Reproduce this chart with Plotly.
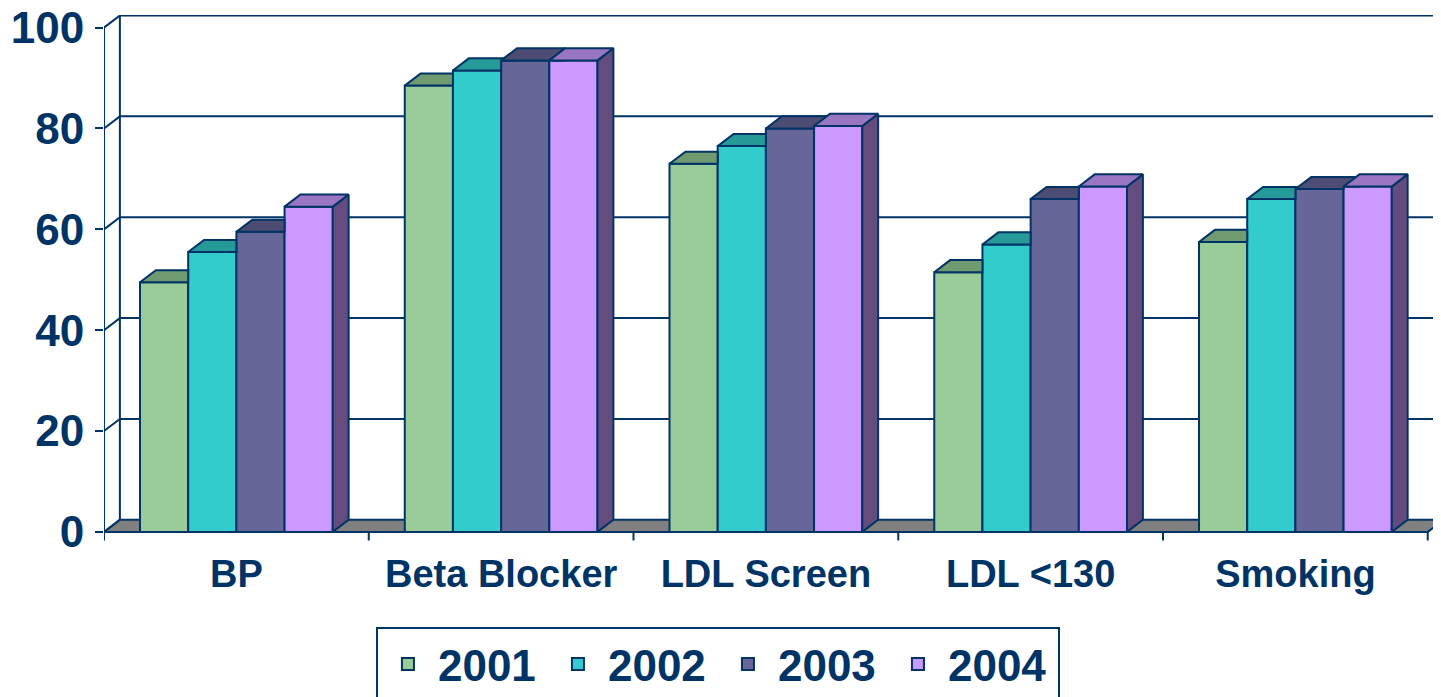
import plotly.graph_objects as go

categories = ["BP", "Beta Blocker", "LDL Screen", "LDL <130", "Smoking"]
years = ["2001", "2002", "2003", "2004"]
values_2001 = [49.5, 88.5, 73, 51.5, 57.5]
values_2002 = [55.5, 91.5, 76.5, 57, 66]
values_2003 = [59.5, 93.5, 80, 66, 68]
values_2004 = [64.5, 93.5, 80.5, 68.5, 68.5]
y_ticks = [0, 20, 40, 60, 80, 100]

series = [values_2001, values_2002, values_2003, values_2004]
front_colors = ["#99CC99", "#33CCCC", "#666699", "#CC99FF"]
top_colors = ["#709A70", "#269999", "#4D4D73", "#9A75C2"]
side_colors = ["#5A7A5A", "#1F7F7F", "#3D3D5C", "#644D7E"]
NAVY = "#003366"
FONT = "Liberation Sans, Arial, sans-serif"

# fake 3d: depth offset of the back wall in axis units
BAR_W = 0.182
DX = 0.06
DY = 2.4
X_LEFT = -0.5
X_RIGHT = len(categories) - 0.5
Y_MAX = max(y_ticks)


def clip(poly, axis, bound, keep_ge):
    # one step of Sutherland-Hodgman against a half plane
    out = []
    n = len(poly)
    for k in range(n):
        p, q = poly[k], poly[(k + 1) % n]
        pin = p[axis] >= bound if keep_ge else p[axis] <= bound
        qin = q[axis] >= bound if keep_ge else q[axis] <= bound
        if pin:
            out.append(p)
        if pin != qin:
            t = (bound - p[axis]) / (q[axis] - p[axis])
            out.append((p[0] + t * (q[0] - p[0]), p[1] + t * (q[1] - p[1])))
    return out


def top_face(x0, x1, v, h):
    # top of a bar, minus the part hidden by the next (front) bar of height h
    if h is None or h <= v:
        return [(x0, v), (x1, v), (x1 + DX, v + DY), (x0 + DX, v + DY)]
    if h >= v + DY:
        return [(x0, v), (x1, v), (x1, v + DY), (x0 + DX, v + DY)]
    return [(x0, v), (x1, v), (x1, h), (x1 + DX * (h - v) / DY, h),
            (x1 + DX, v + DY), (x0 + DX, v + DY)]


def side_face(x1, v, h):
    poly = [(x1, 0), (x1 + DX, DY), (x1 + DX, v + DY), (x1, v)]
    if h is None:
        return poly
    return clip(poly, 1, h, True)


fig = go.Figure()

for j, vals in enumerate(series):
    fig.add_trace(go.Bar(
        x=[i + (j - 1.5) * BAR_W for i in range(len(categories))],
        y=vals,
        width=BAR_W,
        name=years[j],
        marker=dict(color=front_colors[j], line=dict(color=NAVY, width=2)),
        hovertext=categories,
    ))

# tops and sides, painted back to front
for i in range(len(categories)):
    for j, vals in enumerate(series):
        v = vals[i]
        x0 = i + (j - 2) * BAR_W
        x1 = x0 + BAR_W
        h = series[j + 1][i] if j + 1 < len(series) else None
        for poly, col in [(side_face(x1, v, h), side_colors[j]),
                          (top_face(x0, x1, v, h), top_colors[j])]:
            if len(poly) < 3:
                continue
            fig.add_trace(go.Scatter(
                x=[p[0] for p in poly] + [poly[0][0]],
                y=[p[1] for p in poly] + [poly[0][1]],
                mode="lines", fill="toself", fillcolor=col,
                line=dict(color=NAVY, width=2),
                showlegend=False, hoverinfo="skip",
            ))

shapes = []
line = dict(color=NAVY, width=2)
# floor
shapes.append(dict(type="path", layer="below",
                   path=f"M{X_LEFT},0 L{X_RIGHT},0 L{X_RIGHT + DX},{DY} L{X_LEFT + DX},{DY} Z",
                   fillcolor="#808080", line=line))
# back wall
shapes.append(dict(type="line", layer="below", x0=X_LEFT + DX, x1=X_LEFT + DX,
                   y0=DY, y1=Y_MAX + DY, line=line))
for t in y_ticks:
    if t > 0:
        shapes.append(dict(type="line", layer="below", x0=X_LEFT + DX, x1=X_RIGHT + 1,
                           y0=t + DY, y1=t + DY, line=line))
    shapes.append(dict(type="line", layer="below", x0=X_LEFT, x1=X_LEFT + DX,
                       y0=t, y1=t + DY, line=line))
# front axes
shapes.append(dict(type="line", x0=X_LEFT, x1=X_LEFT, y0=0, y1=Y_MAX, line=line))
shapes.append(dict(type="line", x0=X_LEFT, x1=X_RIGHT, y0=0, y1=0, line=line))
for k in range(len(categories) + 1):
    shapes.append(dict(type="line", x0=X_LEFT + k, x1=X_LEFT + k, y0=0, y1=-1.7, line=line))

# page body has an 8px margin, so the figure is a bit smaller than the window
fig.update_layout(
    width=1433, height=689,
    margin=dict(l=96, r=0, t=7, b=155),
    plot_bgcolor="white", paper_bgcolor="white",
    barmode="overlay",
    shapes=shapes,
    showlegend=True,
    legend=dict(orientation="h", x=0.2034, xanchor="left",
                yref="container", y=0.1016, yanchor="top",
                bordercolor=NAVY, borderwidth=2, bgcolor="white",
                entrywidth=105, itemwidth=50,
                font=dict(family=FONT, size=44, color=NAVY, weight="bold"),
                traceorder="normal"),
    xaxis=dict(range=[X_LEFT, X_RIGHT + 0.05], tickvals=list(range(len(categories))),
               ticktext=categories, ticks="", showgrid=False, zeroline=False,
               showline=False, ticklabelstandoff=6, automargin=False,
               tickfont=dict(family=FONT, size=38, color=NAVY, weight="bold")),
    yaxis=dict(range=[-2, Y_MAX + 2.5], tickvals=y_ticks, ticks="outside", ticklen=8,
               tickwidth=2, tickcolor=NAVY, showgrid=False, zeroline=False,
               showline=False, ticklabelstandoff=2, ticklabeloverflow="allow",
               automargin=False,
               tickfont=dict(family=FONT, size=44, color=NAVY, weight="bold")),
)

fig.write_html("out.html")
